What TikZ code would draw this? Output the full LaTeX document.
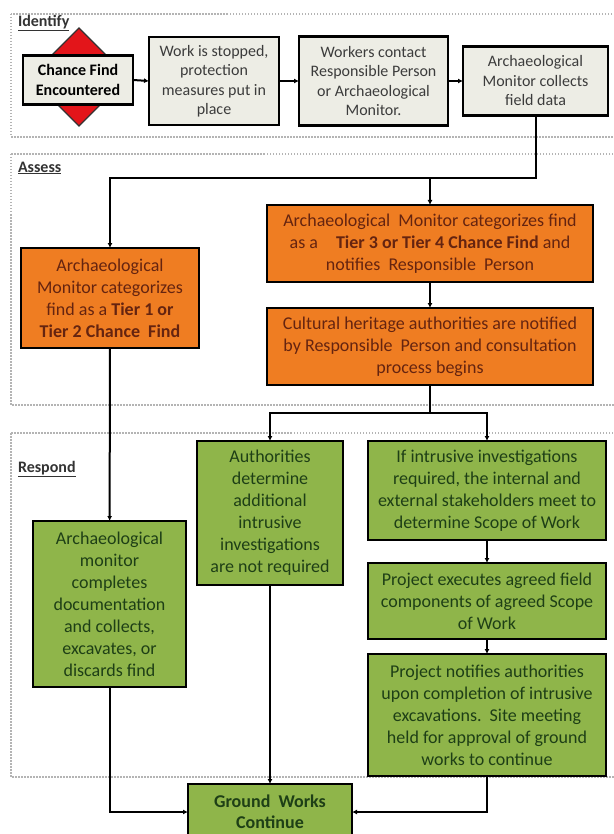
\documentclass[tikz,border=0pt]{standalone}
\usepackage{fontspec}
\setmainfont{Carlito}
\usetikzlibrary{arrows.meta,shapes.geometric}
\definecolor{cfGrayFill}{HTML}{EDEDE5}
\definecolor{cfGrayText}{HTML}{3C3C3C}
\definecolor{cfOrange}{HTML}{EF7D22}
\definecolor{cfOrangeText}{HTML}{652410}
\definecolor{cfGreen}{HTML}{8FB54A}
\definecolor{cfGreenText}{HTML}{1E3F16}
\definecolor{cfAlert}{HTML}{E3151A}
\definecolor{cfFrame}{HTML}{B4B4B4}
\definecolor{cfStageText}{HTML}{333333}
\tikzset{
  cf diagram/.style={
    x=1pt, y=-1pt, line width=2pt,
    >={Latex[length=5pt,width=5pt]},
    every node/.style={inner sep=0pt, outer sep=0pt, align=center}
  },
  cf size/.style 2 args={minimum width=#1pt, minimum height=#2pt},
  cf box/.style={rectangle, draw=black, line width=2.2pt},
  cf gray/.style={cf box, fill=cfGrayFill, text=cfGrayText,
    font=\fontsize{16}{19.5}\selectfont},
  cf orange/.style={cf box, fill=cfOrange, text=cfOrangeText,
    font=\fontsize{18}{22}\selectfont},
  cf green/.style={cf box, fill=cfGreen, text=cfGreenText,
    font=\fontsize{18}{22}\selectfont},
  cf alert/.style={diamond, draw=black!80, fill=cfAlert, line width=1.2pt},
  cf frame/.style={draw=cfFrame, line width=1.5pt, dash pattern=on 1.5pt off 1.5pt},
  cf stage/.style={anchor=west, text=cfStageText,
    font=\bfseries\fontsize{16}{19}\selectfont},
  cf flow/.style={->, draw=black, line width=2pt}
}
% frame top, frame bottom, label y, label name, label text
\newcommand{\CfStagePanel}[5]{%
  \draw[cf frame] (11,#1) rectangle (640,#2);
  \node[cf stage] (#4) at (18,#3) {\underline{#5}};
}
\begin{document}
\begin{tikzpicture}[cf diagram]
  \useasboundingbox (0,0) rectangle (613,834);
  \CfStagePanel{14}{137}{23}{identify}{Identify}
  \CfStagePanel{154}{405}{168}{assess}{Assess}
  \CfStagePanel{433}{777}{469}{respond}{Respond}

  % identify
  \node[cf alert, cf size={98}{98}] (alert) at (79,77) {};
  \node[cf gray, cf size={110}{49}, text=black,
    font=\bfseries\fontsize{16}{19.5}\selectfont] (chance) at (78,80) {Chance Find\\Encountered};
  \node[cf gray, cf size={130}{88}] (stop) at (214,81)
    {Work is stopped,\\protection\\measures put in\\place};
  \node[cf gray, cf size={149}{89}] (contact) at (373.5,81)
    {Workers contact\\Responsible Person\\or Archaeological\\Monitor.};
  \node[cf gray, cf size={145}{69}] (collect) at (535.5,81)
    {Archaeological\\Monitor collects\\field data};

  % assess
  \node[cf orange, cf size={178}{100}] (tier12) at (110,298)
    {Archaeological\\Monitor categorizes\\find as a \textbf{Tier 1 or}\\\textbf{Tier 2 Chance\ \ Find}};
  \node[cf orange, cf size={326}{77}] (tier34) at (430,243.5)
    {Archaeological\ \ Monitor categorizes find\\as a\quad\textbf{Tier 3 or Tier 4 Chance Find} and\\notifies\ \ Responsible\ \ Person};
  \node[cf orange, cf size={326}{77}] (notify) at (430,346.5)
    {Cultural heritage authorities are notified\\by Responsible\ \ Person and consultation\\process begins};

  % respond
  \node[cf green, cf size={153}{166}] (docs) at (109.5,604)
    {Archaeological\\monitor\\completes\\documentation\\and collects,\\excavates, or\\discards find};
  \node[cf green, cf size={146}{144}] (notreq) at (270,513)
    {Authorities\\determine\\additional\\intrusive\\investigations\\are not required};
  \node[cf green, cf size={238}{99}] (scope) at (487,490.5)
    {If intrusive investigations\\required, the internal and\\external stakeholders meet to\\determine Scope of Work};
  \node[cf green, cf size={238}{76}] (execute) at (487,601)
    {Project executes agreed field\\components of agreed Scope\\of Work};
  \node[cf green, cf size={238}{122}] (complete) at (487,715)
    {Project notifies authorities\\upon completion of intrusive\\excavations.\ \ Site meeting\\held for approval of ground\\works to continue};
  \node[cf green, cf size={164}{56}, font=\bfseries\fontsize{18}{21}\selectfont] (ground) at (270,812)
    {Ground\ \ Works\\Continue};

  % connectors
  \draw[cf flow] (chance.east) -- (stop.west);
  \draw[cf flow] (stop) -- (contact);
  \draw[cf flow] (contact) -- (collect);
  \coordinate (split) at (430,178);
  \draw[cf flow] (collect.south) |- (split) -| (tier12.north);
  \draw[cf flow] (split) -- (tier34.north);
  \draw[cf flow] (tier34) -- (notify);
  \coordinate (consult) at (430,413);
  \draw (notify.south) -- (consult);
  \draw[cf flow] (consult) -| (notreq.north);
  \draw[cf flow] (consult) -| (scope.north);
  \draw[cf flow] (tier12) -- (docs);
  \draw[cf flow] (scope) -- (execute);
  \draw[cf flow] (execute) -- (complete);
  \draw[cf flow] (docs.south) |- (ground.west);
  \draw[cf flow] (notreq) -- (ground);
  \draw[cf flow] (complete.south) |- (ground.east);
\end{tikzpicture}
\end{document}
